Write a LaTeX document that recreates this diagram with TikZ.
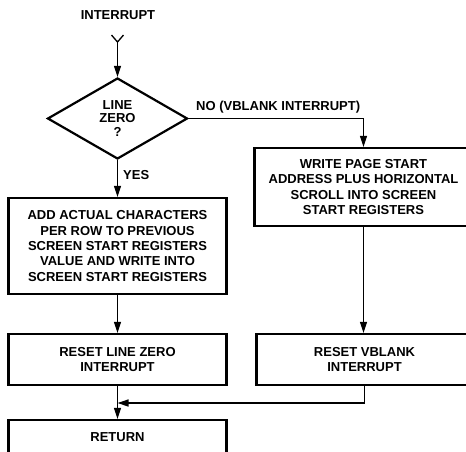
\documentclass[tikz,border=0pt]{standalone}
\usepackage{fontspec}
\setmainfont{Liberation Sans}
\usetikzlibrary{shapes.geometric,arrows.meta}
\begin{document}
\begin{tikzpicture}[x=1pt,y=-1pt,
  every node/.style={font=\bfseries\fontsize{13}{15.3}\selectfont, align=center, inner sep=0pt},
  procbox/.style={draw, line width=2.2pt, rectangle, minimum width=218pt},
  conn/.style={line width=1.3pt},
  arr/.style={conn, -{Triangle[length=11pt,width=7pt]}},
  lbl/.style={font=\bfseries\fontsize{13}{15.3}\selectfont}
]
\useasboundingbox (0,0) rectangle (466,451);
\clip (0,0) rectangle (466,451);

\node (title) at (118,15) {INTERRUPT};
\coordinate (start) at (117.5,42);
\coordinate (tl) at (111.5,35);
\coordinate (tr) at (123.5,35);

\node[draw, diamond, line width=2.2pt, minimum width=140pt, minimum height=81pt,
      font=\bfseries\fontsize{13}{13.5}\selectfont] (d) at (117.5,118.5) {LINE\\ZERO\\?};

\node[procbox, minimum height=96pt] (b1) at (117.5,246)
  {ADD ACTUAL CHARACTERS\\PER ROW TO PREVIOUS\\SCREEN START REGISTERS\\VALUE AND WRITE INTO\\SCREEN START REGISTERS};
\node[procbox, minimum height=78pt] (b2) at (363.5,187)
  {WRITE PAGE START\\ADDRESS PLUS HORIZONTAL\\SCROLL INTO SCREEN\\START REGISTERS};
\node[procbox, minimum height=51pt] (r1) at (117.5,359.5) {RESET LINE ZERO\\INTERRUPT};
\node[procbox, minimum height=51pt, minimum width=216pt] (r2) at (364.5,359.5) {RESET VBLANK\\INTERRUPT};
\node[procbox, minimum height=34pt] (ret) at (117.5,437) {RETURN};

\coordinate (join) at (117.5,403);

\draw[conn] (tl) -- (start) -- (tr);
\draw[arr] (start) -- (d.north);
\draw[arr] (d.east) -| (b2.north);
\node[lbl, anchor=south west] (nolbl) at (196,113) {NO (VBLANK INTERRUPT)};
\draw[arr] (d.south) -- (b1.north);
\node[lbl, anchor=west] (yeslbl) at (123,175) {YES};
\draw[arr] (b1.south) -- (r1.north);
\draw[arr] (b2.south) -- (b2.south |- r2.north);
\draw[arr] (r1.south) -- (ret.north);
\draw[arr] (r2.south) |- (join);
\end{tikzpicture}
\end{document}
